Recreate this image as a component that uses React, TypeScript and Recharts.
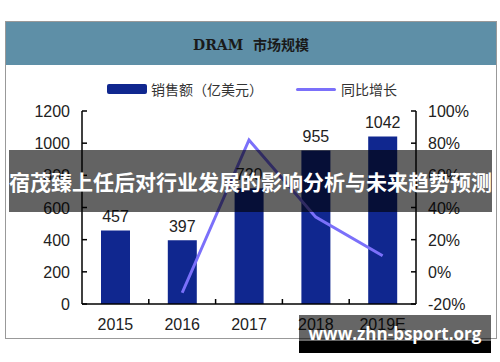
import {
  ComposedChart,
  Bar,
  Line,
  XAxis,
  YAxis,
  LabelList,
} from "recharts";

const years = ["2015", "2016", "2017", "2018", "2019E"];
const sales = [457, 397, 720, 955, 1042];
const growth = [null, -13, 82, 34, 10];
const leftTicks = [0, 200, 400, 600, 800, 1000, 1200];
const rightTicks = [-20, 0, 20, 40, 60, 80, 100];

const data = years.map((year, i) => ({
  year,
  sales: sales[i],
  growth: growth[i],
}));

const BAR_COLOR = "#10278f";
const LINE_COLOR = "#7b70fa";
const FONT = "'Liberation Sans', Arial, sans-serif";
const CJK = "'Noto Sans CJK SC', sans-serif";

const PLOT_LEFT = 82;
const PLOT_RIGHT = 416;

const LeftTick = (props: any) => {
  const { x, y, payload } = props;
  return (
    <g>
      <line x1={x + 12} x2={x + 17} y1={y} y2={y} stroke="#000" strokeWidth={1.5} />
      <text x={x} y={y} dy={6} textAnchor="end" fontSize={16} fill="#222" fontFamily={FONT}>
        {payload.value}
      </text>
    </g>
  );
};

const RightTick = (props: any) => {
  const { x, y, payload } = props;
  return (
    <g>
      <line x1={x - 12} x2={x - 17} y1={y} y2={y} stroke="#000" strokeWidth={1.5} />
      <text x={x} y={y} dy={6} textAnchor="start" fontSize={16} fill="#222" fontFamily={FONT}>
        {payload.value}%
      </text>
    </g>
  );
};

const XTick = (props: any) => {
  const { x, y, payload, index } = props;
  const half = (PLOT_RIGHT - PLOT_LEFT) / years.length / 2;
  return (
    <g>
      {index < years.length - 1 && (
        <line x1={x + half} x2={x + half} y1={y - 12} y2={y - 17} stroke="#000" strokeWidth={1.5} />
      )}
      <text x={x} y={y} dy={14} textAnchor="middle" fontSize={16} fill="#222" fontFamily={FONT}>
        {payload.value}
      </text>
    </g>
  );
};

export default function App() {
  return (
    <div style={{ position: "absolute", left: 0, top: 0, width: 500, height: 362, background: "#fff" }}>
      <div
        style={{
          position: "absolute",
          left: 5,
          top: 21,
          width: 490,
          height: 316,
          border: "1px solid #999",
        }}
      />
      <div
        style={{
          position: "absolute",
          left: 6,
          top: 22,
          width: 490,
          height: 43,
          background: "#5e8fa7",
          display: "flex",
          alignItems: "center",
          justifyContent: "center",
          fontFamily: "'DejaVu Serif', 'Noto Sans CJK SC', serif",
          fontSize: 14,
          fontWeight: "bold",
          color: "#1a1a1a",
        }}
      >
        DRAM&nbsp;&nbsp;市场规模
      </div>
      <div
        style={{
          position: "absolute",
          left: 0,
          top: 79,
          width: 500,
          display: "flex",
          alignItems: "center",
          fontFamily: CJK,
          fontSize: 14,
          color: "#333",
          height: 20,
        }}
      >
        <span style={{ width: 40, height: 10, background: BAR_COLOR, borderRadius: 2, marginLeft: 107 }} />
        <span style={{ marginLeft: 4 }}>销售额（亿美元）</span>
        <span style={{ width: 40, height: 3, background: LINE_COLOR, borderRadius: 2, marginLeft: 33 }} />
        <span style={{ marginLeft: 5 }}>同比增长</span>
      </div>
      <ComposedChart
        width={500}
        height={362}
        data={data}
        margin={{ top: 111, bottom: 0, left: 0, right: 0 }}
        style={{ position: "absolute", left: 0, top: 0 }}
      >
        <XAxis
          dataKey="year"
          tick={<XTick />}
          tickLine={false}
          tickSize={0}
          tickMargin={12}
          axisLine={{ stroke: "#000", strokeWidth: 1.5 }}
          padding={{ left: 0, right: 0 }}
          height={58}
        />
        <YAxis
          yAxisId="left"
          width={82}
          domain={[0, 1200]}
          ticks={leftTicks}
          tick={<LeftTick />}
          tickLine={false}
          tickSize={0}
          tickMargin={12}
          axisLine={{ stroke: "#000", strokeWidth: 1.5 }}
          interval={0}
        />
        <YAxis
          yAxisId="right"
          orientation="right"
          width={84}
          domain={[-20, 100]}
          ticks={rightTicks}
          tick={<RightTick />}
          tickLine={false}
          tickSize={0}
          tickMargin={12}
          axisLine={{ stroke: "#000", strokeWidth: 1.5 }}
          interval={0}
        />
        <Bar yAxisId="left" dataKey="sales" fill={BAR_COLOR} barSize={29} isAnimationActive={false}>
          <LabelList dataKey="sales" position="top" offset={8} fontSize={16} fill="#222" fontFamily={FONT} />
        </Bar>
        <Line
          yAxisId="right"
          dataKey="growth"
          stroke={LINE_COLOR}
          strokeWidth={3}
          dot={false}
          activeDot={false}
          isAnimationActive={false}
        />
      </ComposedChart>
      <div
        style={{
          position: "absolute",
          left: 9,
          top: 150,
          width: 483,
          height: 62,
          background: "rgba(0,0,0,0.61)",
          display: "flex",
          alignItems: "center",
          fontFamily: CJK,
          fontWeight: "bold",
          fontSize: 21,
          color: "#fff",
          whiteSpace: "nowrap",
          overflow: "hidden",
        }}
      >
        宿茂臻上任后对行业发展的影响分析与未来趋势预测
      </div>
      <div
        style={{
          position: "absolute",
          left: 299,
          top: 315,
          width: 192,
          height: 26,
          background: "rgba(0,0,0,0.6)",
        }}
      />
      <div style={{ position: "absolute", left: 299, top: 341, width: 192, height: 12, background: "#000" }} />
      <div
        style={{
          position: "absolute",
          left: 299,
          top: 322,
          width: 192,
          textAlign: "center",
          fontFamily: "'Open Sans', sans-serif",
          fontWeight: "bold",
          fontSize: 17,
          lineHeight: "24px",
          color: "#fff",
          whiteSpace: "nowrap",
        }}
      >
        www.zhn-bsport.org
      </div>
    </div>
  );
}
